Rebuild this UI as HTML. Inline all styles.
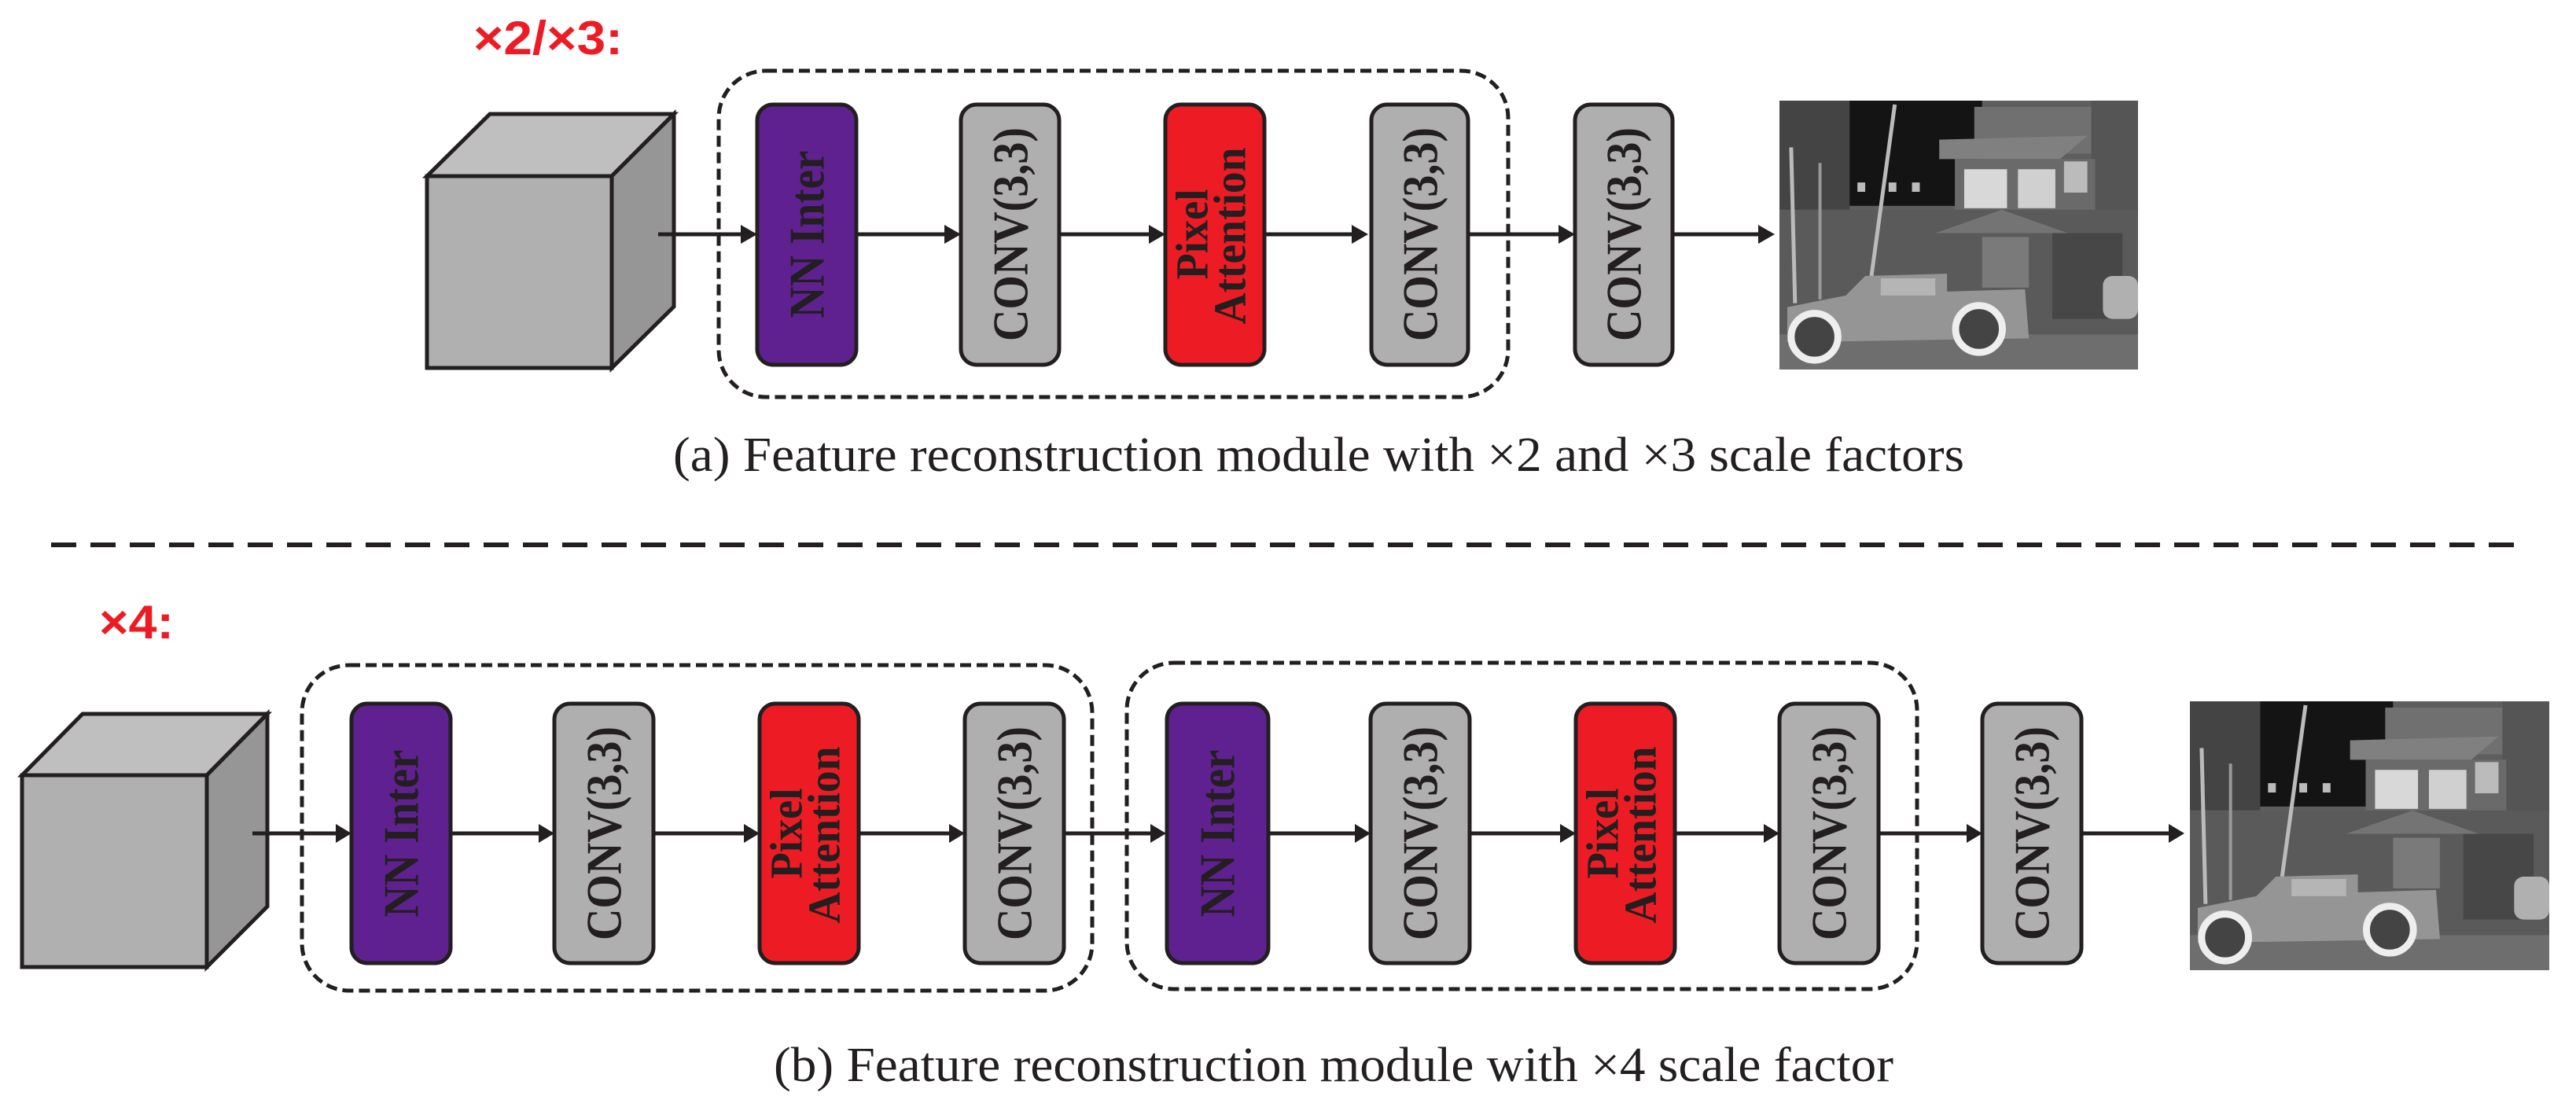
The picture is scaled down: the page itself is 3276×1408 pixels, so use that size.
<!DOCTYPE html>
<html><head><meta charset="utf-8"><style>
html,body{margin:0;padding:0;background:#fff;}
svg{display:block;}
.lbl{font-family:"Liberation Serif",serif;font-weight:bold;fill:#231f20;font-size:64px;}
.cap{font-family:"Liberation Serif",serif;fill:#231f20;font-size:62px;}
.red{font-family:"Liberation Sans Narrow","Liberation Sans",sans-serif;font-weight:bold;fill:#ed1c24;font-size:60px;}
</style></head><body>
<svg width="3276" height="1408" viewBox="0 0 3276 1408" xmlns="http://www.w3.org/2000/svg">
<defs>
<symbol id="photo" viewBox="0 0 460 345" preserveAspectRatio="none">
  <rect width="460" height="345" fill="#5e5e5e"/>
  <rect x="0" y="0" width="90" height="140" fill="#444"/>
  <rect x="90" y="0" width="170" height="135" fill="#141414"/>
  <rect x="250" y="8" width="150" height="60" fill="#707070"/>
  <rect x="400" y="0" width="60" height="150" fill="#555"/>
  <polygon points="205,50 395,45 360,75 205,75" fill="#808080"/>
  <rect x="225" y="75" width="180" height="90" fill="#6a6a6a"/>
  <rect x="237" y="88" width="55" height="50" fill="#d8d8d8"/>
  <rect x="306" y="88" width="48" height="50" fill="#d0d0d0"/>
  <rect x="365" y="78" width="30" height="40" fill="#bbb"/>
  <rect x="100" y="105" width="10" height="12" fill="#bbb"/>
  <rect x="140" y="105" width="10" height="12" fill="#bbb"/>
  <rect x="170" y="105" width="10" height="12" fill="#bbb"/>
  <rect x="0" y="140" width="460" height="165" fill="#5a5a5a"/>
  <polygon points="200,170 285,140 370,170" fill="#747474"/>
  <rect x="260" y="175" width="60" height="65" fill="#7a7a7a"/>
  <rect x="350" y="170" width="90" height="110" fill="#474747"/>
  <line x1="148" y1="5" x2="118" y2="225" stroke="#bbb" stroke-width="5"/>
  <line x1="15" y1="60" x2="20" y2="260" stroke="#bbb" stroke-width="5"/>
  <line x1="52" y1="80" x2="52" y2="255" stroke="#999" stroke-width="4"/>
  <rect x="0" y="300" width="460" height="45" fill="#6e6e6e"/>
  <path d="M10,265 L85,250 L110,225 L215,222 L215,245 L315,242 L320,305 L10,310 Z" fill="#959595"/>
  <rect x="130" y="228" width="70" height="22" fill="#b5b5b5"/>
  <circle cx="45" cy="303" r="30" fill="#444" stroke="#eee" stroke-width="9"/>
  <circle cx="256" cy="293" r="30" fill="#444" stroke="#eee" stroke-width="9"/>
  <rect x="415" y="225" width="45" height="55" rx="12" fill="#b0b0b0"/>
</symbol>
</defs>

<text class="red" x="602" y="69" textLength="190" lengthAdjust="spacingAndGlyphs">×2/×3:</text>

<polygon points="543,224 623,145 857,145 778,224" fill="#bfbfbf" stroke="#231f20" stroke-width="5"/>
<polygon points="778,224 857,145 857,390 778,468" fill="#979697" stroke="#231f20" stroke-width="5"/>
<rect x="543" y="224" width="235" height="244" fill="#b0b0b0" stroke="#231f20" stroke-width="5"/>

<rect x="914" y="90" width="1004" height="415" rx="60" fill="none" stroke="#231f20" stroke-width="5" stroke-dasharray="14 7"/>

<g stroke="#231f20" stroke-width="5">
  <rect x="963" y="133" width="126" height="331" rx="20" fill="#5f2190"/>
  <rect x="1222" y="133" width="125" height="331" rx="20" fill="#b0afb0"/>
  <rect x="1482" y="133" width="126" height="331" rx="20" fill="#ed1c24"/>
  <rect x="1744" y="133" width="123" height="331" rx="20" fill="#b0afb0"/>
  <rect x="2003" y="133" width="124" height="331" rx="20" fill="#b0afb0"/>
</g>
<text class="lbl" transform="translate(1026,298) rotate(-90)" text-anchor="middle" dominant-baseline="central" textLength="213" lengthAdjust="spacingAndGlyphs">NN Inter</text>
<text class="lbl" transform="translate(1285,298) rotate(-90)" text-anchor="middle" dominant-baseline="central" textLength="272" lengthAdjust="spacingAndGlyphs">CONV(3,3)</text>
<text class="lbl" style="font-size:58px" transform="translate(1516,298) rotate(-90)" text-anchor="middle" dominant-baseline="central" textLength="115" lengthAdjust="spacingAndGlyphs">Pixel</text>
<text class="lbl" style="font-size:58px" transform="translate(1564,300) rotate(-90)" text-anchor="middle" dominant-baseline="central" textLength="225" lengthAdjust="spacingAndGlyphs">Attention</text>
<text class="lbl" transform="translate(1806,298) rotate(-90)" text-anchor="middle" dominant-baseline="central" textLength="272" lengthAdjust="spacingAndGlyphs">CONV(3,3)</text>
<text class="lbl" transform="translate(2065,298) rotate(-90)" text-anchor="middle" dominant-baseline="central" textLength="272" lengthAdjust="spacingAndGlyphs">CONV(3,3)</text>

<svg x="2263" y="128" width="456" height="342"><use href="#photo" width="456" height="342"/></svg>

<g stroke="#231f20" stroke-width="5" fill="none">
  <line x1="837" y1="298" x2="945" y2="298"/>
  <line x1="1089" y1="298" x2="1204" y2="298"/>
  <line x1="1347" y1="298" x2="1464" y2="298"/>
  <line x1="1608" y1="298" x2="1722" y2="298"/>
  <line x1="1867" y1="298" x2="1985" y2="298"/>
  <line x1="2127" y1="298" x2="2240" y2="298"/>
</g>
<g fill="#231f20">
  <polygon points="942,286 963,298 942,310"/>
  <polygon points="1201,286 1222,298 1201,310"/>
  <polygon points="1461,286 1482,298 1461,310"/>
  <polygon points="1719,286 1740,298 1719,310"/>
  <polygon points="1982,286 2003,298 1982,310"/>
  <polygon points="2236,286 2257,298 2236,310"/>
</g>

<text class="cap" x="856" y="599" textLength="1642" lengthAdjust="spacingAndGlyphs">(a)  Feature reconstruction module with ×2 and ×3 scale factors</text>

<line x1="65" y1="693" x2="3210" y2="693" stroke="#231f20" stroke-width="6" stroke-dasharray="32 18"/>

<text class="red" x="126" y="812" textLength="95" lengthAdjust="spacingAndGlyphs">×4:</text>

<polygon points="28,986 105,908 340,908 263,986" fill="#bfbfbf" stroke="#231f20" stroke-width="5"/>
<polygon points="263,986 340,908 340,1153 263,1230" fill="#979697" stroke="#231f20" stroke-width="5"/>
<rect x="28" y="986" width="235" height="244" fill="#b0b0b0" stroke="#231f20" stroke-width="5"/>

<rect x="384" y="846" width="1005" height="414" rx="60" fill="none" stroke="#231f20" stroke-width="5" stroke-dasharray="14 7"/>
<rect x="1433" y="843" width="1005" height="415" rx="60" fill="none" stroke="#231f20" stroke-width="5" stroke-dasharray="14 7"/>

<g stroke="#231f20" stroke-width="5">
  <rect x="447" y="895" width="126" height="330" rx="20" fill="#5f2190"/>
  <rect x="705" y="895" width="126" height="330" rx="20" fill="#b0afb0"/>
  <rect x="966" y="895" width="126" height="330" rx="20" fill="#ed1c24"/>
  <rect x="1227" y="895" width="126" height="330" rx="20" fill="#b0afb0"/>
  <rect x="1484" y="895" width="129" height="330" rx="20" fill="#5f2190"/>
  <rect x="1743" y="895" width="126" height="330" rx="20" fill="#b0afb0"/>
  <rect x="2004" y="895" width="126" height="330" rx="20" fill="#ed1c24"/>
  <rect x="2263" y="895" width="126" height="330" rx="20" fill="#b0afb0"/>
  <rect x="2521" y="895" width="126" height="330" rx="20" fill="#b0afb0"/>
</g>
<g>
<text class="lbl" transform="translate(510,1060) rotate(-90)" text-anchor="middle" dominant-baseline="central" textLength="213" lengthAdjust="spacingAndGlyphs">NN Inter</text>
<text class="lbl" transform="translate(768,1060) rotate(-90)" text-anchor="middle" dominant-baseline="central" textLength="272" lengthAdjust="spacingAndGlyphs">CONV(3,3)</text>
<text class="lbl" style="font-size:58px" transform="translate(1000,1060) rotate(-90)" text-anchor="middle" dominant-baseline="central" textLength="115" lengthAdjust="spacingAndGlyphs">Pixel</text>
<text class="lbl" style="font-size:58px" transform="translate(1048,1062) rotate(-90)" text-anchor="middle" dominant-baseline="central" textLength="225" lengthAdjust="spacingAndGlyphs">Attention</text>
<text class="lbl" transform="translate(1290,1060) rotate(-90)" text-anchor="middle" dominant-baseline="central" textLength="272" lengthAdjust="spacingAndGlyphs">CONV(3,3)</text>
<text class="lbl" transform="translate(1548,1060) rotate(-90)" text-anchor="middle" dominant-baseline="central" textLength="213" lengthAdjust="spacingAndGlyphs">NN Inter</text>
<text class="lbl" transform="translate(1806,1060) rotate(-90)" text-anchor="middle" dominant-baseline="central" textLength="272" lengthAdjust="spacingAndGlyphs">CONV(3,3)</text>
<text class="lbl" style="font-size:58px" transform="translate(2038,1060) rotate(-90)" text-anchor="middle" dominant-baseline="central" textLength="115" lengthAdjust="spacingAndGlyphs">Pixel</text>
<text class="lbl" style="font-size:58px" transform="translate(2086,1062) rotate(-90)" text-anchor="middle" dominant-baseline="central" textLength="225" lengthAdjust="spacingAndGlyphs">Attention</text>
<text class="lbl" transform="translate(2326,1060) rotate(-90)" text-anchor="middle" dominant-baseline="central" textLength="272" lengthAdjust="spacingAndGlyphs">CONV(3,3)</text>
<text class="lbl" transform="translate(2584,1060) rotate(-90)" text-anchor="middle" dominant-baseline="central" textLength="272" lengthAdjust="spacingAndGlyphs">CONV(3,3)</text>
</g>

<svg x="2785" y="892" width="457" height="342"><use href="#photo" width="457" height="342"/></svg>

<g stroke="#231f20" stroke-width="5" fill="none">
  <line x1="321" y1="1060" x2="430" y2="1060"/>
  <line x1="573" y1="1060" x2="688" y2="1060"/>
  <line x1="831" y1="1060" x2="949" y2="1060"/>
  <line x1="1092" y1="1060" x2="1210" y2="1060"/>
  <line x1="1353" y1="1060" x2="1466" y2="1060"/>
  <line x1="1613" y1="1060" x2="1726" y2="1060"/>
  <line x1="1869" y1="1060" x2="1987" y2="1060"/>
  <line x1="2130" y1="1060" x2="2246" y2="1060"/>
  <line x1="2389" y1="1060" x2="2504" y2="1060"/>
  <line x1="2647" y1="1060" x2="2762" y2="1060"/>
</g>
<g fill="#231f20">
  <polygon points="427,1048 447,1060 427,1072"/>
  <polygon points="685,1048 705,1060 685,1072"/>
  <polygon points="946,1048 966,1060 946,1072"/>
  <polygon points="1207,1048 1227,1060 1207,1072"/>
  <polygon points="1463,1048 1483,1060 1463,1072"/>
  <polygon points="1723,1048 1743,1060 1723,1072"/>
  <polygon points="1984,1048 2004,1060 1984,1072"/>
  <polygon points="2243,1048 2263,1060 2243,1072"/>
  <polygon points="2501,1048 2521,1060 2501,1072"/>
  <polygon points="2758,1048 2778,1060 2758,1072"/>
</g>

<text class="cap" x="984" y="1375" textLength="1424" lengthAdjust="spacingAndGlyphs">(b)  Feature reconstruction module with ×4 scale factor</text>
</svg>
</body></html>
